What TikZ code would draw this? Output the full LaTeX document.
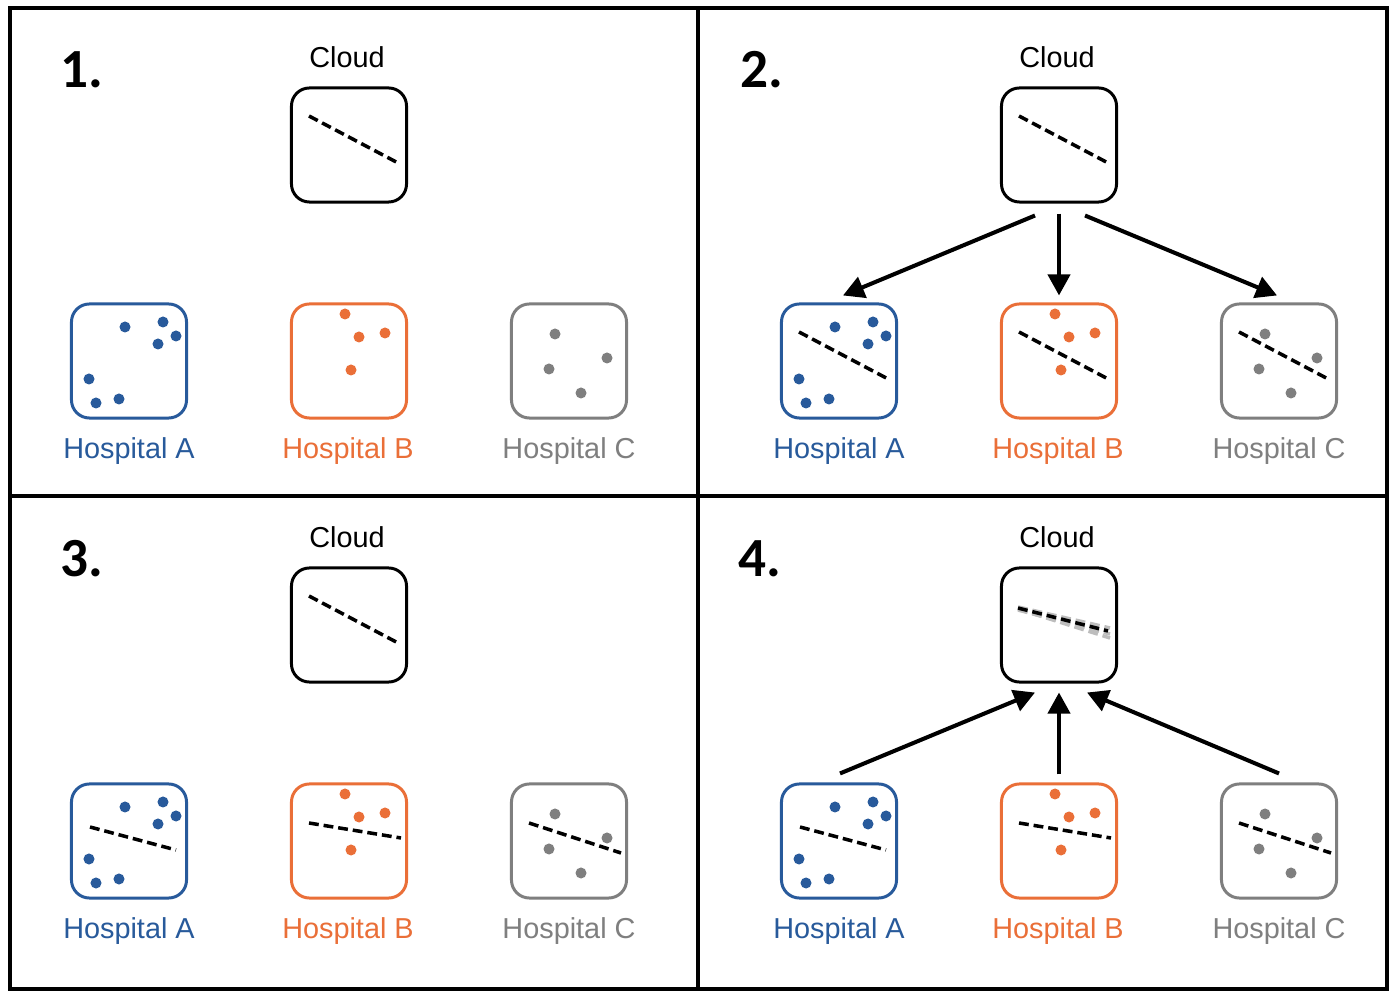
\documentclass[tikz,border=0pt]{standalone}
\usepackage{fontspec}
\setmainfont{Liberation Sans}
\newfontfamily\numfont{Carlito}
\usetikzlibrary{arrows.meta}
\definecolor{hblue}{HTML}{285A9B}
\definecolor{horange}{HTML}{EA6F38}
\definecolor{hgray}{HTML}{7F7F7F}
\definecolor{fadegray}{HTML}{BDBDBD}

\begin{document}
\begin{tikzpicture}[x=0.01cm,y=-0.01cm,
box/.style={draw,line width=0.85pt,rounded corners=0.18cm,minimum width=1.15cm,minimum height=1.14cm,inner sep=0pt},
lbl/.style={font=\fontsize{8.2}{10}\selectfont,anchor=base,inner sep=0pt},
num/.style={font=\fontsize{15.7}{18}\numfont\bfseries,anchor=base west,inner sep=0pt},
trend/.style={dash pattern=on 2.8pt off 1.4pt,line width=1pt},
arr/.style={line width=1.15pt,-{Triangle[length=0.21cm,width=0.22cm]}}]
\useasboundingbox (0,0) rectangle (1400,1001);
\fill[white] (0,0) rectangle (1400,1001);

% four panels, same layout
\foreach \p/\dx/\dy/\nx/\ny in {1/0/0/60/88,2/710/0/740/88,3/0/480/60/577,4/710/480/738/577}{
  \node[num] (n\p) at (\nx,\ny) {\p.};
  \node[box] (c\p) at (349+\dx,145+\dy) {};
  \node[lbl] (cl\p) at (347+\dx,68+\dy) {Cloud};
  \node[box,hblue] (ha\p) at (129+\dx,361+\dy) {};
  \node[box,horange] (hb\p) at (349+\dx,361+\dy) {};
  \node[box,hgray] (hc\p) at (569+\dx,361+\dy) {};
  \node[lbl,text=hblue] (la\p) at (129+\dx,459+\dy) {Hospital A};
  \node[lbl,text=horange] (lb\p) at (348+\dx,459+\dy) {Hospital B};
  \node[lbl,text=hgray] (lc\p) at (569+\dx,459+\dy) {Hospital C};
  % data points
  \begin{scope}[shift={(ha\p.center)}]
    \foreach \x/\y in {-4/-34,34/-39,47/-25,29/-17,-40/18,-33/42,-10/38}
      \fill[hblue] (\x,\y) circle (0.055cm);
  \end{scope}
  \begin{scope}[shift={(hb\p.center)}]
    \foreach \x/\y in {-4/-47,10/-24,36/-28,2/9}
      \fill[horange] (\x,\y) circle (0.055cm);
  \end{scope}
  \begin{scope}[shift={(hc\p.center)}]
    \foreach \x/\y in {-14/-27,38/-3,-20/8,12/32}
      \fill[hgray] (\x,\y) circle (0.055cm);
  \end{scope}
}

% global model in the cloud
\foreach \p in {1,2,3}
  \draw[trend,shift={(c\p.center)}] (-40,-29) -- (51,19);
\begin{scope}[shift={(c4.center)}]
  \draw[trend,fadegray] (-41,-16) -- (51,13);
  \draw[trend,fadegray] (-41,-15) -- (51,9);
  \draw[trend,fadegray] (-41,-18) -- (51,3);
  \draw[trend] (-41,-17) -- (49,6);
\end{scope}

% panel 2: model sent to hospitals
\foreach \h in {ha2,hb2,hc2}
  \draw[trend,shift={(\h.center)}] (-40,-29) -- (51,19);
\draw[arr] ([xshift=-0.24cm,yshift=-0.12cm]c2.south) -- ([xshift=0.04cm,yshift=0.07cm]ha2.north);
\draw[arr] ([yshift=-0.1cm]c2.south) -- ([yshift=0.07cm]hb2.north);
\draw[arr] ([xshift=0.26cm,yshift=-0.12cm]c2.south) -- ([xshift=-0.02cm,yshift=0.07cm]hc2.north);

% panels 3 and 4: local fits
\foreach \p in {3,4}{
  \draw[trend,shift={(ha\p.center)}] (-39,-14) -- (47,9);
  \draw[trend,shift={(hb\p.center)}] (-40,-18) -- (52,-3);
  \draw[trend,shift={(hc\p.center)}] (-40,-18) -- (52,12);
}

% panel 4: updates sent back
\draw[arr] ([xshift=0.01cm,yshift=0.09cm]ha4.north) -- ([xshift=-0.24cm,yshift=-0.09cm]c4.south);
\draw[arr] ([yshift=0.08cm]hb4.north) -- ([yshift=-0.09cm]c4.south);
\draw[arr] ([yshift=0.09cm]hc4.north) -- ([xshift=0.28cm,yshift=-0.09cm]c4.south);

% frames
\draw[line width=1.4pt] (10,8) rectangle (1387,989);
\draw[line width=1.4pt] (698,8) -- (698,989);
\draw[line width=1.4pt] (10,496) -- (1387,496);
\end{tikzpicture}
\end{document}
